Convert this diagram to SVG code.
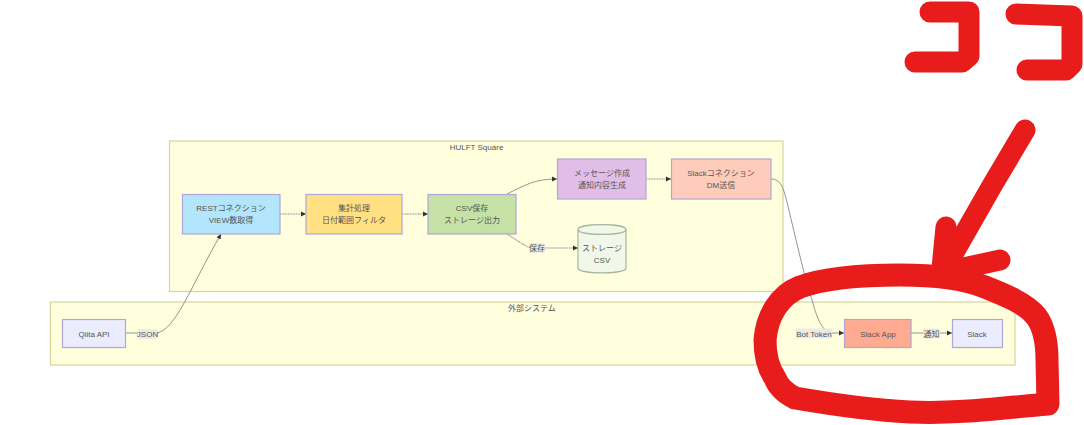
<svg xmlns="http://www.w3.org/2000/svg" width="1084" height="425" viewBox="0 0 1084 425">
<style>
text{font-family:"Liberation Sans","Noto Sans CJK JP",sans-serif;font-size:8px;fill:#555;text-anchor:middle}
.cluster{fill:#ffffde;stroke:#d6d69a;stroke-width:1.2}
.node rect,.node path{stroke:#b0a6d8;stroke-width:1.2}
.e{fill:none;stroke:#888;stroke-width:.9}
.d{stroke-dasharray:1 .6;stroke-width:1.1}
.lb{fill:#e8e8e8;fill-opacity:.85}
.red{fill:none;stroke:#e91c1c;stroke-width:21;stroke-linecap:round;stroke-linejoin:round}
.thick{stroke-width:23}
</style>
<defs>
<marker id="a" markerUnits="userSpaceOnUse" markerWidth="6" markerHeight="6" refX="5" refY="3" orient="auto"><path d="M0 .6L5 3L0 5.400z" fill="#333"/></marker>
</defs>
<rect width="1084" height="425" fill="#fff"/>
<g id="clusters">
<g id="hulft"><rect class="cluster" x="169.500" y="141" width="613.500" height="150.500"/><text x="476.500" y="150">HULFT Square</text></g>
<g id="external"><rect class="cluster" x="50.500" y="302" width="964.500" height="63"/><text x="532" y="311">外部システム</text></g>
</g>
<g id="connectors">
<path class="e" d="M125.500 333H138M157 333C176 329 190 288 221 234" marker-end="url(#a)"/>
<path class="e d" d="M280 214H306" marker-end="url(#a)"/>
<path class="e d" d="M402 214H428" marker-end="url(#a)"/>
<path class="e" d="M507 194C525 185 535 179 557 179" marker-end="url(#a)"/>
<path class="e d" d="M646 179H671" marker-end="url(#a)"/>
<path class="e" d="M771 179C781 179 783 188 786 198C795 235 805 280 812 300C816 315 822 333 832 333H844" marker-end="url(#a)"/>
<path class="e d" d="M507 234C515 239 522 244 530 248M545 248H578" marker-end="url(#a)"/>
<path class="e" d="M911 333H923M940 333H952" marker-end="url(#a)"/>
</g>
<g id="edge-labels">
<rect class="lb" x="138" y="329" width="19" height="10"/><text x="147.500" y="336.500">JSON</text>
<rect class="lb" x="529" y="243" width="16" height="10"/><text x="537" y="251">保存</text>
<rect class="lb" x="796" y="328.500" width="36" height="10"/><text x="814" y="336.500">Bot Token</text>
<rect class="lb" x="923" y="328.500" width="17" height="10"/><text x="931.500" y="336.500">通知</text>
</g>
<g id="rest" class="node"><rect x="182.500" y="194.500" width="97.500" height="39.500" fill="#b3e5fc"/><text x="231" y="211">RESTコネクション</text><text x="231" y="223">VIEW数取得</text></g>
<g id="agg" class="node"><rect x="306" y="194.500" width="96" height="39.500" fill="#ffe082"/><text x="354" y="211">集計処理</text><text x="354" y="223">日付範囲フィルタ</text></g>
<g id="csv" class="node"><rect x="428" y="194.500" width="88" height="39.500" fill="#c5e1a5"/><text x="472" y="211">CSV保存</text><text x="472" y="223">ストレージ出力</text></g>
<g id="msg" class="node"><rect x="557.500" y="159" width="88.500" height="40" fill="#e1bee7"/><text x="602" y="176">メッセージ作成</text><text x="602" y="188">通知内容生成</text></g>
<g id="slackconn" class="node"><rect x="671.500" y="159" width="99.500" height="40" fill="#ffccbc"/><text x="721" y="176">Slackコネクション</text><text x="721" y="188">DM送信</text></g>
<g id="storage" class="node"><path d="M578 229.500C578 223 626 223 626 229.500V268C626 274.500 578 274.500 578 268Z" fill="#f1f8e9" style="stroke:#a8b59c"/><path d="M578 229.500C578 236 626 236 626 229.500" fill="none" style="stroke:#a8b59c"/><text x="602" y="250.500">ストレージ</text><text x="602" y="262.500">CSV</text></g>
<g id="qiita" class="node"><rect x="62.500" y="319.500" width="63" height="28" fill="#ececff"/><text x="94" y="337">Qiita API</text></g>
<g id="slackapp" class="node"><rect x="844.500" y="319.500" width="66.500" height="28" fill="#ffab91"/><text x="878" y="337">Slack App</text></g>
<g id="slack" class="node"><rect x="952.500" y="319.500" width="50" height="28" fill="#ececff"/><text x="977" y="337">Slack</text></g>
<g id="annotation">
<path class="red" d="M930 12H969V56L962 62H915"/>
<path class="red" d="M1016 14L1072 16V64L1066 70H1027"/>
<path class="red" d="M1025 130L993 184L945 268M946 227L942 268M1000 260L945 272"/>
<path class="red thick" d="M1048 404C1000 408 960 414 910 412C870 410 830 404 795 398C785 393 778 386 775 378C768 368 765 355 765 340C767 315 780 295 800 287C825 278 860 275 900 275C930 275 960 277 985 287C1005 295 1025 303 1036 316C1045 328 1047 345 1047 360Z"/>
</g>
</svg>
